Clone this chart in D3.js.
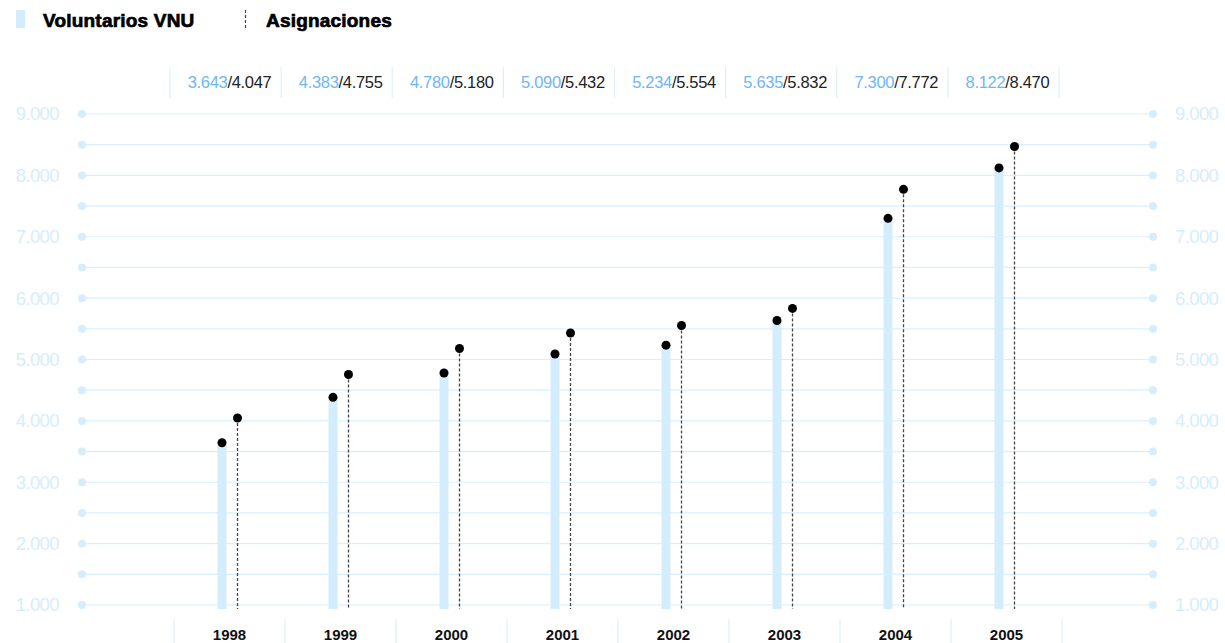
<!DOCTYPE html>
<html><head><meta charset="utf-8">
<script src="https://cdn.jsdelivr.net/npm/d3@7"></script>
<style>
body{margin:0;background:#fff;}
svg{display:block;font-family:"Liberation Sans",Arial,Helvetica,sans-serif;}
</style></head>
<body><svg id="c" width="1225" height="643"></svg>
<script>
const years = ["1998","1999","2000","2001","2002","2003","2004","2005"];
const voluntarios = [3643,4383,4780,5090,5234,5635,7300,8122];
const asignaciones = [4047,4755,5180,5432,5554,5832,7772,8470];
const gridTicks = [1000,1500,2000,2500,3000,3500,4000,4500,5000,5500,6000,6500,7000,7500,8000,8500,9000];
const labelTicks = [1000,2000,3000,4000,5000,6000,7000,8000,9000];
const seriesNames = ["Voluntarios VNU","Asignaciones"];

const svg = d3.select("#c");
const fmt = v => d3.format(",")(v).replace(/,/g,".");
const y = d3.scaleLinear().domain([1000,9000]).range([605,114]);
const x = d3.scaleBand().domain(years).range([174,1062]).padding(0);
const lightLine = "#d9f0fc", lightText = "#d6edfb", barCol = "#d4edfc", blueTxt = "#70b6f5";

// grid
const g = svg.append("g");
g.selectAll("line.grid").data(gridTicks).join("line")
 .attr("x1",82).attr("x2",1153).attr("y1",d=>y(d)).attr("y2",d=>y(d))
 .attr("stroke",lightLine).attr("stroke-width",1.2);
g.selectAll("circle.l").data(gridTicks).join("circle").attr("class","l")
 .attr("cx",82).attr("cy",d=>y(d)).attr("r",4).attr("fill","#d6edfb");
g.selectAll("circle.r").data(gridTicks).join("circle").attr("class","r")
 .attr("cx",1153).attr("cy",d=>y(d)).attr("r",4).attr("fill","#d6edfb");

// axis labels via d3 axes
const axL = svg.append("g").attr("transform","translate(67,0)")
 .call(d3.axisLeft(y).tickValues(labelTicks).tickFormat(fmt).tickSize(0).tickPadding(8));
const axR = svg.append("g").attr("transform","translate(1167,0)")
 .call(d3.axisRight(y).tickValues(labelTicks).tickFormat(fmt).tickSize(0).tickPadding(8));
[axL,axR].forEach(a=>{a.select(".domain").remove();
 a.selectAll("text").attr("fill",lightText).style("font-size","18.5px").style("letter-spacing","-0.6px")
  .style("font-family","'Liberation Sans',Arial,sans-serif");});

// bars
const cx = d => x(d)+x.bandwidth()/2;
svg.selectAll("rect.bar").data(years).join("rect")
 .attr("x",(d)=>cx(d)-12).attr("width",9)
 .attr("y",(d,i)=>y(voluntarios[i])).attr("height",(d,i)=>609-y(voluntarios[i]))
 .attr("fill",barCol);
svg.selectAll("line.asg").data(years).join("line")
 .attr("x1",d=>cx(d)+8).attr("x2",d=>cx(d)+8)
 .attr("y1",(d,i)=>y(asignaciones[i])).attr("y2",609)
 .attr("stroke","#444").attr("stroke-width",1.3).attr("stroke-dasharray","3,2");
svg.selectAll("circle.v").data(years).join("circle")
 .attr("cx",d=>cx(d)-7.5).attr("cy",(d,i)=>y(voluntarios[i])).attr("r",4.5).attr("fill","#000");
svg.selectAll("circle.a").data(years).join("circle")
 .attr("cx",d=>cx(d)+8).attr("cy",(d,i)=>y(asignaciones[i])).attr("r",4.5).attr("fill","#000");

// top labels
const topX = d3.scaleBand().domain(years).range([170,1059]);
svg.selectAll("line.tsep").data(d3.range(years.length+1)).join("line")
 .attr("x1",i=>170+i*topX.bandwidth()).attr("x2",i=>170+i*topX.bandwidth())
 .attr("y1",67).attr("y2",98).attr("stroke","#dcf0fc").attr("stroke-width",1.2);
const tt = svg.selectAll("text.top").data(years).join("text")
 .attr("x",d=>topX(d)+topX.bandwidth()/2+4).attr("y",88).attr("text-anchor","middle")
 .style("font-size","16.5px").style("letter-spacing","-0.3px");
tt.append("tspan").attr("fill",blueTxt).text((d,i)=>fmt(voluntarios[i]));
tt.append("tspan").attr("fill","#222").text((d,i)=>"/"+fmt(asignaciones[i]));

// bottom
svg.selectAll("line.bsep").data(d3.range(years.length+1)).join("line")
 .attr("x1",i=>174+i*x.bandwidth()).attr("x2",i=>174+i*x.bandwidth())
 .attr("y1",619).attr("y2",643).attr("stroke","#dcf0fc").attr("stroke-width",1.2);
svg.selectAll("text.yr").data(years).join("text")
 .attr("x",d=>cx(d)).attr("y",640).attr("text-anchor","middle")
 .style("font-size","15px").style("font-weight","bold").attr("fill","#111").text(d=>d);

// legend
svg.append("rect").attr("x",16).attr("y",10).attr("width",9).attr("height",18).attr("fill",barCol);
svg.append("text").attr("x",43).attr("y",27).text(seriesNames[0])
 .style("font-size","19px").style("font-weight","bold").attr("fill","#000")
 .attr("stroke","#000").attr("stroke-width",0.7).style("letter-spacing","0.2px");
svg.append("line").attr("x1",245.5).attr("x2",245.5).attr("y1",10).attr("y2",29)
 .attr("stroke","#444").attr("stroke-width",1.2).attr("stroke-dasharray","3,2");
svg.append("text").attr("x",266).attr("y",27).text(seriesNames[1])
 .style("font-size","19px").style("font-weight","bold").attr("fill","#000")
 .attr("stroke","#000").attr("stroke-width",0.7).style("letter-spacing","0.2px");
</script></body></html>
